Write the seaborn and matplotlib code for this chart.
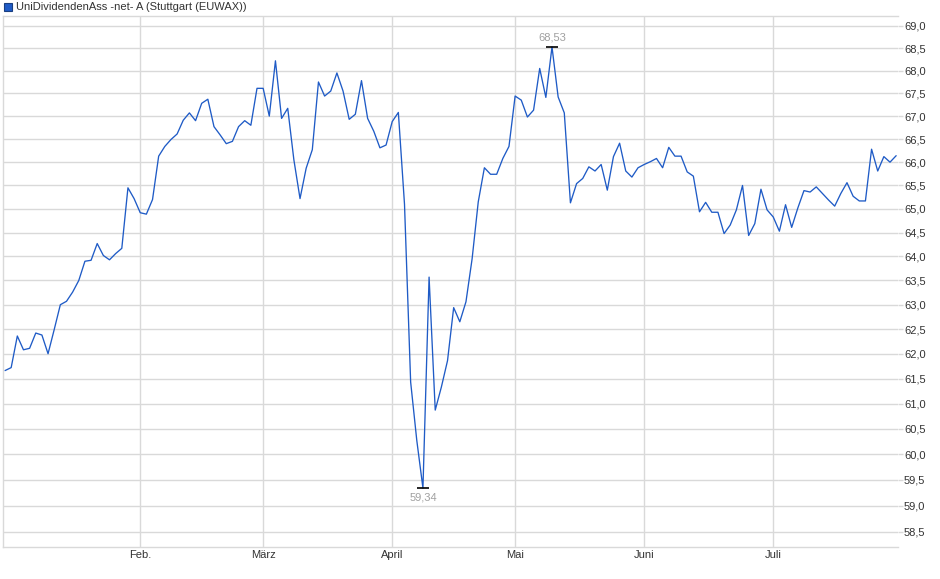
import numpy as np
import pandas as pd
import seaborn as sns
import matplotlib
matplotlib.use("Agg")
import matplotlib.pyplot as plt
from matplotlib.ticker import FixedLocator, NullLocator, FixedFormatter
from matplotlib.patches import Rectangle

# ---------------- data ----------------
title = "UniDividendenAss -net- A (Stuttgart (EUWAX))"

prices = [
    61.66, 61.72, 62.36, 62.08, 62.11, 62.42, 62.38, 62.00, 62.49, 63.00,
    63.07, 63.26, 63.50, 63.90, 63.92, 64.27, 64.02, 63.93, 64.06, 64.17,
    65.45, 65.22, 64.92, 64.89, 65.20, 66.13, 66.34, 66.49, 66.61, 66.91,
    67.07, 66.90, 67.28, 67.37, 66.77, 66.59, 66.40, 66.45, 66.77, 66.90,
    66.80, 67.61, 67.61, 67.00, 68.22, 66.95, 67.17, 66.05, 65.22, 65.87,
    66.27, 67.75, 67.44, 67.55, 67.95, 67.55, 66.93, 67.04, 67.78, 66.95,
    66.67, 66.31, 66.37, 66.88, 67.08, 65.10, 61.43, 60.27, 59.34, 63.57,
    60.87, 61.33, 61.86, 62.94, 62.65, 63.06, 63.95, 65.15, 65.88, 65.74,
    65.74, 66.08, 66.34, 67.44, 67.35, 66.98, 67.13, 68.05, 67.41, 68.53,
    67.42, 67.07, 65.13, 65.54, 65.65, 65.90, 65.81, 65.95, 65.40, 66.12,
    66.41, 65.81, 65.68, 65.88, 65.95, 66.01, 66.08, 65.88, 66.32, 66.13,
    66.13, 65.79, 65.70, 64.94, 65.14, 64.93, 64.93, 64.48, 64.66, 64.98,
    65.50, 64.44, 64.69, 65.42, 64.98, 64.83, 64.53, 65.09, 64.61, 65.02,
    65.39, 65.36, 65.47, 65.33, 65.19, 65.06, 65.33, 65.56, 65.27, 65.17,
    65.17, 66.28, 65.81, 66.12, 66.00, 66.14,
]
trading_day = list(range(len(prices)))

month_labels = ["Feb.", "März", "April", "Mai", "Juni", "Juli"]
month_start_day = [22, 42, 63, 83, 104, 125]

y_ticks = [58.5, 59.0, 59.5, 60.0, 60.5, 61.0, 61.5, 62.0, 62.5, 63.0, 63.5,
           64.0, 64.5, 65.0, 65.5, 66.0, 66.5, 67.0, 67.5, 68.0, 68.5, 69.0]

df = pd.DataFrame({"day": trading_day, "price": prices})

# ---------------- style ----------------
sns.set_style("white")
plt.rcParams["font.family"] = ["Liberation Sans", "DejaVu Sans"]

LINE = "#1f5bc6"
GRID = "#d9d9d9"
TXT = "#333333"

W, H = 940, 579
fig = plt.figure(figsize=(W / 100, H / 100), dpi=100)
left, right, top, bottom = 3, 898, 16, 547
ax = fig.add_axes([left / W, 1 - bottom / H, (right - left) / W, (bottom - top) / H])

sns.lineplot(data=df, x="day", y="price", ax=ax, color=LINE, linewidth=0.95,
             legend=False)

ax.set_yscale("log")
ax.set_ylim(58.21, 69.225)
ax.set_xlim(-0.33, 145.3)

ax.yaxis.set_major_locator(FixedLocator(y_ticks))
ax.yaxis.set_minor_locator(NullLocator())
ax.yaxis.set_major_formatter(FixedFormatter([f"{v:.1f}".replace(".", ",") for v in y_ticks]))
ax.yaxis.tick_right()
ax.tick_params(axis="y", which="major", length=3.5, width=1.0, color=GRID,
               labelsize=8, labelcolor=TXT, pad=0.8)
ax.tick_params(axis="y", which="minor", length=0)

ax.set_xticks(month_start_day)
ax.set_xticklabels(month_labels)
ax.tick_params(axis="x", length=0, labelsize=8, labelcolor=TXT, pad=2.5)

ax.grid(True, axis="both", color=GRID, linewidth=1.0)
ax.set_axisbelow(True)
ax.set_xlabel("")
ax.set_ylabel("")

for side in ["left", "top", "bottom"]:
    ax.spines[side].set_visible(True)
    ax.spines[side].set_color(GRID)
    ax.spines[side].set_linewidth(1.0)
ax.spines["right"].set_visible(False)

# high / low markers
imax = int(np.argmax(prices))
imin = int(np.argmin(prices))
ax.plot([trading_day[imax]], [prices[imax]], marker="_", markersize=8,
        markeredgewidth=1.2, color="black", linestyle="none")
ax.plot([trading_day[imin]], [prices[imin]], marker="_", markersize=8,
        markeredgewidth=1.2, color="black", linestyle="none")
ax.annotate(f"{prices[imax]:.2f}".replace(".", ","),
            xy=(trading_day[imax], prices[imax]), xytext=(0, 3),
            textcoords="offset points", ha="center", va="bottom",
            fontsize=8, color="#a0a0a0")
ax.annotate(f"{prices[imin]:.2f}".replace(".", ","),
            xy=(trading_day[imin], prices[imin]), xytext=(0, -3),
            textcoords="offset points", ha="center", va="top",
            fontsize=8, color="#a0a0a0")

# legend / title
fig.patches.append(Rectangle((4 / W, 1 - 11 / H), 8 / W, 8 / H,
                             transform=fig.transFigure, facecolor=LINE,
                             edgecolor="#1a3f80", linewidth=0.8))
fig.text(16 / W, 1 - 6.5 / H, title, ha="left", va="center",
         fontsize=8, color=TXT)

fig.savefig("out.png", dpi=100)
